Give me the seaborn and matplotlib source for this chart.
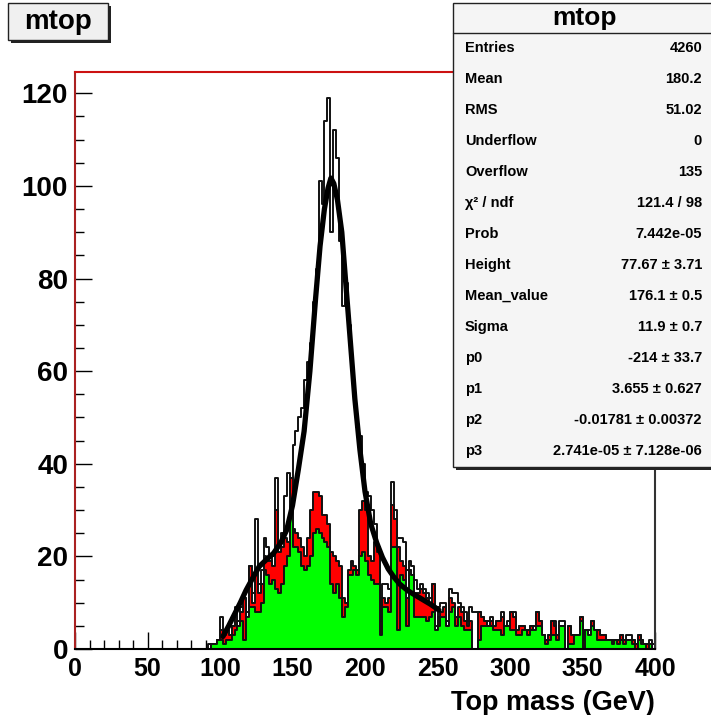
import numpy as np
import matplotlib
matplotlib.use("Agg")
import matplotlib.pyplot as plt
import seaborn as sns
from matplotlib.patches import Rectangle
from matplotlib.ticker import MultipleLocator

# ---------------------------------------------------------------
# Histogram contents: 2 GeV bins, left edges 90, 92, ..., 398 GeV
# ---------------------------------------------------------------
first_edge = 90
bin_width = 2

total = [
    0, 1, 1, 1, 2, 7, 3, 4, 3, 5,            # 90-108
    9, 6, 9, 11, 8, 18, 12, 28, 14, 17,      # 110-128
    24, 22, 19, 20, 37, 22, 25, 33, 38, 37,  # 130-148
    44, 47, 50, 52, 58, 62, 66, 75, 82, 101, # 150-168
    96, 114, 119, 90, 112, 106, 88, 74, 79, 70,  # 170-188
    63, 55, 48, 46, 40, 34, 33, 30, 27, 22,  # 190-208
    8, 14, 14, 13, 36, 30, 24, 24, 23, 17,   # 210-228
    19, 18, 15, 13, 14, 13, 12, 11, 14, 5,   # 230-248
    9, 10, 10, 6, 13, 12, 12, 10, 9, 8,      # 250-268
    6, 9, 8, 8, 8, 7, 6, 6, 7, 5,            # 270-288
    6, 6, 8, 5, 6, 8, 8, 4, 5, 5,            # 290-308
    4, 4, 5, 5, 8, 6, 3, 2, 3, 6,            # 310-328
    6, 3, 6, 6, 0, 5, 3, 3, 3, 7,            # 330-348
    2, 4, 4, 6, 4, 4, 3, 3, 2, 2,            # 350-368
    2, 2, 2, 3, 2, 3, 3, 2, 1, 3,            # 370-388
    2, 1, 1, 2, 1,                           # 390-398
]

red = [
    0, 0, 1, 1, 2, 4, 3, 4, 3, 5,
    7, 5, 8, 11, 7, 18, 10, 16, 12, 14,
    20, 19, 19, 18, 30, 21, 22, 24, 23, 37,
    26, 25, 24, 22, 20, 24, 30, 34, 34, 33,
    29, 29, 27, 21, 20, 19, 18, 11, 10, 17,
    19, 18, 17, 30, 32, 30, 20, 19, 23, 21,
    6, 11, 10, 11, 31, 28, 22, 19, 18, 11,
    17, 16, 12, 12, 13, 12, 11, 10, 14, 4,
    7, 8, 9, 5, 11, 10, 7, 9, 8, 6,
    5, 6, 0, 0, 8, 7, 6, 5, 6, 5,
    6, 6, 7, 5, 5, 8, 7, 4, 5, 5,
    4, 4, 5, 4, 8, 6, 3, 2, 3, 6,
    5, 3, 5, 5, 0, 5, 3, 3, 3, 7,
    2, 4, 3, 6, 4, 4, 3, 3, 2, 2,
    2, 2, 2, 3, 2, 2, 2, 2, 1, 3,
    2, 1, 1, 1, 0,
]

green = [
    0, 0, 1, 1, 2, 2, 1, 2, 2, 3,
    4, 5, 6, 2, 7, 9, 9, 8, 8, 10,
    17, 16, 14, 15, 13, 12, 14, 18, 20, 32,
    22, 22, 21, 18, 17, 18, 20, 25, 26, 25,
    24, 23, 22, 14, 12, 14, 11, 7, 9, 16,
    16, 17, 16, 20, 21, 19, 16, 15, 14, 14,
    3, 9, 9, 8, 22, 22, 4, 16, 15, 5,
    17, 16, 7, 7, 7, 7, 6, 7, 8, 4,
    5, 7, 7, 5, 8, 9, 5, 7, 5, 4,
    4, 4, 0, 0, 2, 5, 5, 5, 5, 4,
    4, 4, 3, 5, 5, 4, 4, 3, 3, 4,
    4, 3, 4, 4, 5, 5, 3, 1, 2, 3,
    3, 2, 5, 5, 0, 1, 1, 3, 3, 6,
    0, 4, 3, 5, 4, 2, 2, 2, 2, 2,
    1, 2, 1, 2, 1, 2, 2, 1, 0, 2,
    1, 1, 0, 1, 0,
]

# fitted curve (gaus + pol3)
curve_x = [102, 106, 110, 114, 118, 122, 127, 132, 137, 142, 146, 150, 154,
           158, 162, 166, 169, 172, 174.5, 176.5, 178.5, 181, 184, 187, 190,
           193, 196.5, 200, 204, 208, 212, 216, 220, 224, 230, 238, 245, 251]
curve_y = [2.7, 5, 7.5, 10, 12.7, 15, 17.8, 19.3, 20.7, 23, 25.7, 31, 38.7,
           47, 60, 76, 87, 95, 99.5, 101.7, 100.5, 97, 90, 78, 66,
           54, 43, 34, 27, 23, 19.8, 17.3, 15.5, 14, 12.5, 11, 9.7, 8.4]

stats_labels = ["Entries", "Mean", "RMS", "Underflow", "Overflow", "χ² / ndf",
                "Prob", "Height", "Mean_value", "Sigma", "p0", "p1", "p2", "p3"]
stats_values = ["4260", "180.2", "51.02", "0", "135", "121.4 / 98",
                "7.442e-05", "77.67 ± 3.71", "176.1 ± 0.5", "11.9 ± 0.7",
                "-214 ± 33.7", "3.655 ± 0.627", "-0.01781 ± 0.00372",
                "2.741e-05 ± 7.128e-06"]

# ---------------------------------------------------------------
sns.set_style("ticks")
plt.rcParams['font.family'] = ['Liberation Sans', 'DejaVu Sans']
plt.rcParams['text.color'] = 'black'

W, H = 711, 715
fig = plt.figure(figsize=(W / 100, H / 100), dpi=100)
ax = fig.add_axes([75 / W, 66 / H, 580 / W, 577 / H])

edges = np.arange(0, 400 + bin_width, bin_width)
centers = edges[:-1] + bin_width / 2
i0 = first_edge // bin_width


def full(values):
    arr = np.zeros(len(centers))
    arr[i0:i0 + len(values)] = values
    return arr


for vals, col in [(total, "white"), (red, "#ff0000"), (green, "#00ff00")]:
    sns.histplot(x=centers, weights=full(vals), binwidth=bin_width,
                 binrange=(0, 400), element="step", fill=True, color=col,
                 edgecolor="#111111", linewidth=1.4, alpha=1, ax=ax)

sns.lineplot(x=curve_x, y=curve_y, color="black", linewidth=3.8, ax=ax,
             zorder=10)

ax.set_xlim(0, 400)
ax.set_ylim(0, 124.6)
ax.set_ylabel("")
ax.set_xlabel("Top mass (GeV)", fontsize=19.5, fontweight="bold",
              loc="right", labelpad=6, color="black")

ax.xaxis.set_major_locator(MultipleLocator(50))
ax.xaxis.set_minor_locator(MultipleLocator(10))
ax.yaxis.set_major_locator(MultipleLocator(20))
ax.yaxis.set_minor_locator(MultipleLocator(5))
ax.tick_params(which="major", direction="in", length=12.5, width=1,
               color="black", labelcolor="black", top=False, right=False)
ax.tick_params(which="minor", direction="in", length=6.5, width=1,
               color="black", top=False, right=False)
ax.tick_params(axis="x", labelsize=18, pad=6)
ax.tick_params(axis="y", labelsize=20, pad=5)
for lab in ax.get_xticklabels() + ax.get_yticklabels():
    lab.set_fontweight("bold")

ax.spines["top"].set_color("#cc1111")
ax.spines["left"].set_color("#aa2222")
ax.spines["right"].set_color("#333333")
ax.spines["bottom"].set_color("black")
for s in ax.spines.values():
    s.set_linewidth(1.5)

# title box, top left
fig.add_artist(Rectangle((11 / W, 1 - 43 / H), 100 / W, 37 / H,
                         transform=fig.transFigure, facecolor="#222222",
                         edgecolor="none", zorder=20))
fig.add_artist(Rectangle((8 / W, 1 - 40 / H), 100 / W, 37 / H,
                         transform=fig.transFigure, facecolor="#f0f0f0",
                         edgecolor="#222222", linewidth=1, zorder=21))
fig.text(58 / W, 1 - 22 / H, "mtop", ha="center", va="center", fontsize=20,
         fontweight="bold", zorder=22)

# statistics box, top right
fig.add_artist(Rectangle((456 / W, 1 - 470 / H), 300 / W, 467 / H,
                         transform=fig.transFigure, facecolor="#222222",
                         edgecolor="none", zorder=20))
fig.add_artist(Rectangle((453 / W, 1 - 467 / H), 300 / W, 464 / H,
                         transform=fig.transFigure, facecolor="#f5f5f5",
                         edgecolor="#222222", linewidth=1, zorder=21))
fig.add_artist(plt.Line2D([453 / W, 1], [1 - 33 / H, 1 - 33 / H],
                          transform=fig.transFigure, color="#222222",
                          linewidth=1, zorder=22))
fig.text(585 / W, 1 - 18 / H, "mtop", ha="center", va="center", fontsize=19,
         fontweight="bold", zorder=22)
for k, (lab, val) in enumerate(zip(stats_labels, stats_values)):
    y = 1 - (48 + 31 * k) / H
    fig.text(465 / W, y, lab, ha="left", va="center", fontsize=10.5,
             fontweight="bold", zorder=22)
    fig.text(702 / W, y, val, ha="right", va="center", fontsize=10.5,
             fontweight="bold", zorder=22)

fig.savefig("out.png", dpi=100)
